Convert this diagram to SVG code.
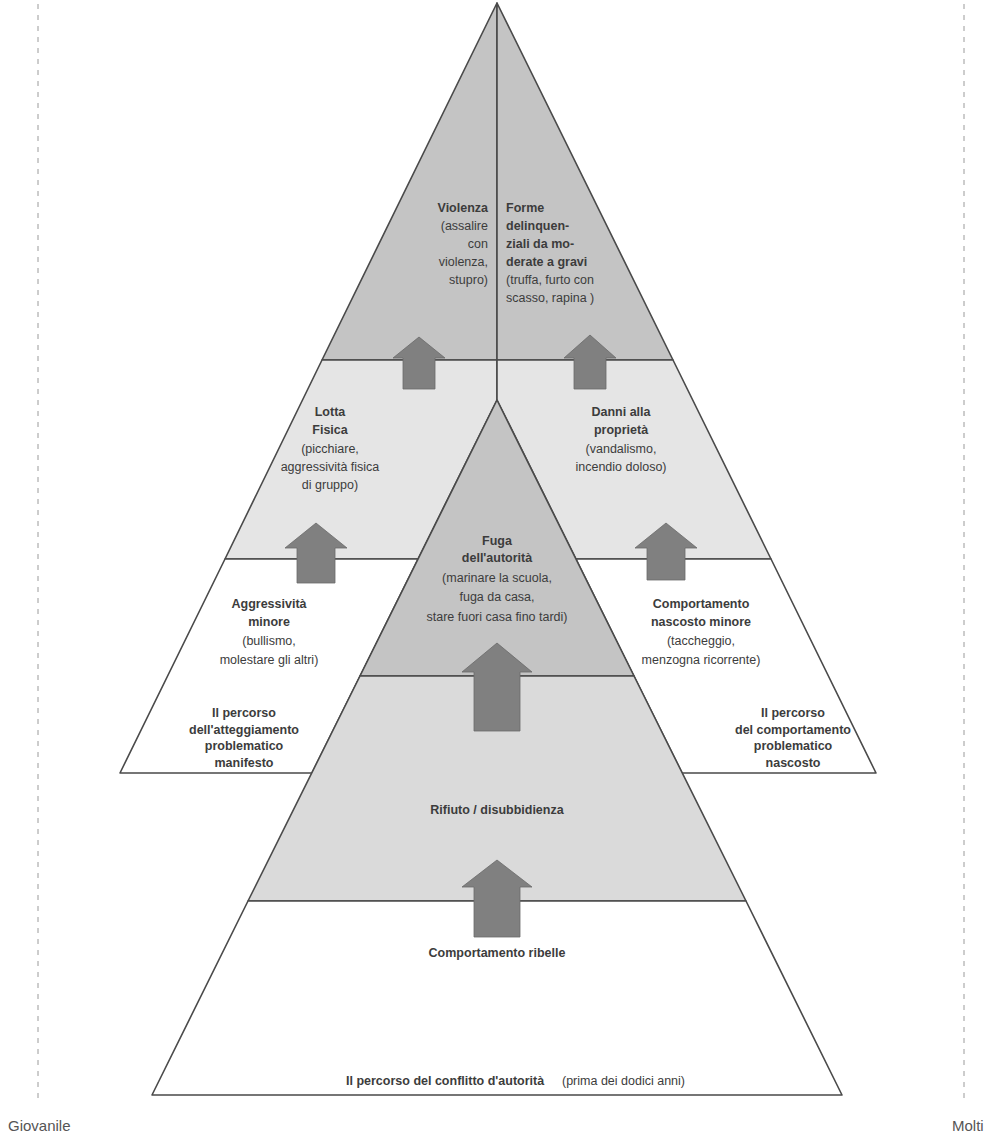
<svg xmlns="http://www.w3.org/2000/svg" width="1001" height="1139" viewBox="0 0 1001 1139">
<style>
  .dark { fill: #c4c4c4; stroke: #4a4a4a; stroke-width: 1.6; stroke-linejoin: round; }
  .mid { fill: #e5e5e5; stroke: #4a4a4a; stroke-width: 1.6; stroke-linejoin: round; }
  .light { fill: #dadada; stroke: #4a4a4a; stroke-width: 1.6; stroke-linejoin: round; }
  .white { fill: #ffffff; stroke: #4a4a4a; stroke-width: 1.6; stroke-linejoin: round; }
  .arrow { fill: #808080; stroke: #6a6a6a; stroke-width: 0.8; }
  .guide { stroke: #9a9a9a; stroke-width: 1; stroke-dasharray: 5 6; fill: none; }
  text { font-family: "Liberation Sans", Arial, sans-serif; fill: #3c3c3c; font-size: 12.5px; }
  .b { font-weight: bold; }
  .c { text-anchor: middle; }
  .r { text-anchor: end; }
  .side { font-size: 15px; fill: #555; }
</style>
<rect width="1001" height="1139" fill="#ffffff"/>
<line class="guide" x1="38" y1="4" x2="38" y2="1102"/>
<line class="guide" x1="964" y1="4" x2="964" y2="1102"/>

<g id="violenza">
  <polygon class="dark" points="497,3 322,360 497,360"/>
  <text class="b r" x="488" y="212">Violenza</text>
  <text class="r" x="488" y="230">(assalire</text>
  <text class="r" x="488" y="248">con</text>
  <text class="r" x="488" y="266">violenza,</text>
  <text class="r" x="488" y="284">stupro)</text>
</g>
<g id="forme-delinquenziali">
  <polygon class="dark" points="497,3 497,360 673,360"/>
  <text class="b" x="506" y="212">Forme</text>
  <text class="b" x="506" y="230">delinquen-</text>
  <text class="b" x="506" y="248">ziali da mo-</text>
  <text class="b" x="506" y="266">derate a gravi</text>
  <text x="506" y="284">(truffa, furto con</text>
  <text x="506" y="302">scasso, rapina )</text>
</g>
<g id="lotta-fisica">
  <polygon class="mid" points="322,360 497,360 497,400 418,559 225,559"/>
  <text class="b c" x="330" y="416">Lotta</text>
  <text class="b c" x="330" y="434">Fisica</text>
  <text class="c" x="330" y="453">(picchiare,</text>
  <text class="c" x="330" y="471">aggressività fisica</text>
  <text class="c" x="330" y="489">di gruppo)</text>
</g>
<g id="danni-proprieta">
  <polygon class="mid" points="497,360 673,360 771,559 576,559 497,400"/>
  <text class="b c" x="621" y="416">Danni alla</text>
  <text class="b c" x="621" y="434">proprietà</text>
  <text class="c" x="621" y="453">(vandalismo,</text>
  <text class="c" x="621" y="471">incendio doloso)</text>
</g>
<g id="aggressivita-minore">
  <polygon class="white" points="225,559 418,559 312,773 120,773"/>
  <text class="b c" x="269" y="608">Aggressività</text>
  <text class="b c" x="269" y="626">minore</text>
  <text class="c" x="269" y="645">(bullismo,</text>
  <text class="c" x="269" y="664">molestare gli altri)</text>
  <text class="b c" x="244" y="717">Il percorso</text>
  <text class="b c" x="244" y="734">dell'atteggiamento</text>
  <text class="b c" x="244" y="750">problematico</text>
  <text class="b c" x="244" y="767">manifesto</text>
</g>
<g id="comportamento-nascosto">
  <polygon class="white" points="576,559 771,559 876,773 682,773"/>
  <text class="b c" x="701" y="608">Comportamento</text>
  <text class="b c" x="701" y="626">nascosto minore</text>
  <text class="c" x="701" y="645">(taccheggio,</text>
  <text class="c" x="701" y="664">menzogna ricorrente)</text>
  <text class="b c" x="793" y="717">Il percorso</text>
  <text class="b c" x="793" y="734">del comportamento</text>
  <text class="b c" x="793" y="750">problematico</text>
  <text class="b c" x="793" y="767">nascosto</text>
</g>
<g id="fuga-autorita">
  <polygon class="dark" points="497,400 360,676 634,676"/>
  <text class="b c" x="497" y="545">Fuga</text>
  <text class="b c" x="497" y="562">dell'autorità</text>
  <text class="c" x="497" y="582">(marinare la scuola,</text>
  <text class="c" x="497" y="601">fuga da casa,</text>
  <text class="c" x="497" y="621">stare fuori casa fino tardi)</text>
</g>
<g id="rifiuto-disubbidienza">
  <polygon class="light" points="360,676 634,676 746,901 248,901"/>
  <text class="b c" x="497" y="814">Rifiuto / disubbidienza</text>
</g>
<g id="comportamento-ribelle">
  <polygon class="white" points="248,901 746,901 842,1095 152,1095"/>
  <text class="b c" x="497" y="957">Comportamento ribelle</text>
  <text class="b" x="346" y="1085">Il percorso del conflitto d'autorità</text>
  <text x="562" y="1085">(prima dei dodici anni)</text>
</g>

<g id="connectors">
  <polygon class="arrow" points="419,337 445,358 435,358 435,389 403,389 403,358 393,358"/>
  <polygon class="arrow" points="590,335 616,358 606,358 606,389 574,389 574,358 564,358"/>
  <polygon class="arrow" points="316,523 347,548 335,548 335,583 297,583 297,548 285,548"/>
  <polygon class="arrow" points="666,523 697,548 685,548 685,580 647,580 647,548 635,548"/>
  <polygon class="arrow" points="497,643 532,672 520,672 520,731 474,731 474,672 462,672"/>
  <polygon class="arrow" points="497,860 532,887 520,887 520,937 474,937 474,887 462,887"/>
</g>

<text class="side" x="8" y="1131">Giovanile</text>
<text class="side" x="952" y="1131">Molti</text>
</svg>
